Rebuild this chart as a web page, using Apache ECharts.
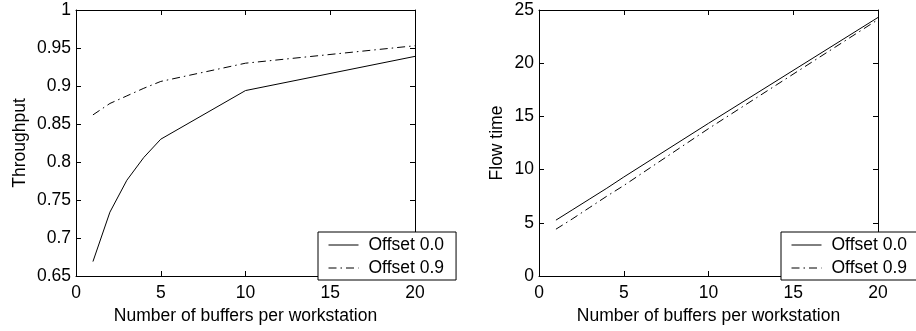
<!DOCTYPE html>
<html>
<head>
<meta charset="utf-8">
<script src="https://cdn.jsdelivr.net/npm/echarts@6/dist/echarts.min.js"></script>
<style>
html, body { margin: 0; padding: 0; background: #fff; }
#chart { width: 916px; height: 331px; }
</style>
</head>
<body>
<div id="chart"></div>
<script>
// buffers per workstation (x values shared by both panels)
var buffers = [1, 2, 3, 4, 5, 10, 20];
var seriesNames = ['Offset 0.0', 'Offset 0.9'];

// left panel: throughput
var throughputOffset00 = [0.669, 0.734, 0.776, 0.806, 0.830, 0.894, 0.939];
var throughputOffset09 = [0.862, 0.877, 0.887, 0.897, 0.906, 0.930, 0.953];

// right panel: flow time
var flowOffset00 = [5.25, 6.25, 7.25, 8.25, 9.3, 14.35, 24.3];
var flowOffset09 = [4.4, 5.4, 6.45, 7.5, 8.5, 13.85, 24.1];

var yTicksThroughput = { min: 0.65, max: 1, interval: 0.05 };
var yTicksFlow = { min: 0, max: 25, interval: 5 };
var xTicks = { min: 0, max: 20, interval: 5 };

var FONT = 'Liberation Sans, Arial, Helvetica, sans-serif';
var FS = 17.5;
var dashDot = [8, 4, 1.5, 4];

function pairs(xs, ys) {
    return xs.map(function (x, i) { return [x, ys[i]]; });
}

function mainX(gridIndex) {
    return {
        type: 'value', gridIndex: gridIndex, position: 'bottom',
        min: xTicks.min, max: xTicks.max, interval: xTicks.interval,
        name: 'Number of buffers per workstation', nameLocation: 'middle', nameGap: 30,
        nameTextStyle: { color: '#000', fontFamily: FONT, fontSize: FS },
        axisLine: { show: true, onZero: false, lineStyle: { color: '#000', width: 1 } },
        axisTick: { show: true, inside: true, length: 5, lineStyle: { color: '#000' } },
        axisLabel: { show: true, color: '#000', fontFamily: FONT, fontSize: FS, margin: 8 },
        splitLine: { show: false }
    };
}

function mirrorX(gridIndex) {
    return {
        type: 'value', gridIndex: gridIndex, position: 'top',
        min: xTicks.min, max: xTicks.max, interval: xTicks.interval,
        axisLine: { show: true, onZero: false, lineStyle: { color: '#000', width: 1 } },
        axisTick: { show: true, inside: true, length: 5, lineStyle: { color: '#000' } },
        axisLabel: { show: false },
        splitLine: { show: false }
    };
}

function mainY(gridIndex, ticks, name, gap) {
    return {
        type: 'value', gridIndex: gridIndex, position: 'left',
        min: ticks.min, max: ticks.max, interval: ticks.interval,
        name: name, nameLocation: 'middle', nameGap: gap,
        nameTextStyle: { color: '#000', fontFamily: FONT, fontSize: FS },
        axisLine: { show: true, onZero: false, lineStyle: { color: '#000', width: 1 } },
        axisTick: { show: true, inside: true, length: 5, lineStyle: { color: '#000' } },
        axisLabel: { show: true, color: '#000', fontFamily: FONT, fontSize: FS, margin: 5 },
        splitLine: { show: false }
    };
}

function mirrorY(gridIndex, ticks) {
    return {
        type: 'value', gridIndex: gridIndex, position: 'right',
        min: ticks.min, max: ticks.max, interval: ticks.interval,
        axisLine: { show: true, onZero: false, lineStyle: { color: '#000', width: 1 } },
        axisTick: { show: true, inside: true, length: 5, lineStyle: { color: '#000' } },
        axisLabel: { show: false },
        splitLine: { show: false }
    };
}

function lineSeries(name, xi, yi, data, type) {
    return {
        name: name, type: 'line', xAxisIndex: xi, yAxisIndex: yi,
        data: data, symbol: 'none', silent: true, animation: false,
        lineStyle: { color: '#000', width: 1, type: type },
        itemStyle: { color: '#000' }
    };
}

function legendAt(left) {
    return {
        left: left, top: 232, orient: 'vertical',
        data: seriesNames,
        itemWidth: 30, itemHeight: 17, itemGap: 5,
        padding: [4, 12, 3, 10],
        backgroundColor: '#fff', borderColor: '#000', borderWidth: 1, borderRadius: 0,
        itemStyle: { color: 'transparent', borderWidth: 0, opacity: 0 },
        lineStyle: { width: 1, color: '#000' },
        textStyle: { color: '#000', fontFamily: FONT, fontSize: FS, padding: [0, 0, 0, 5] },
        selectedMode: false
    };
}

var chart = echarts.init(document.getElementById('chart'), null, { renderer: 'canvas' });
chart.setOption({
    animation: false,
    backgroundColor: '#fff',
    grid: [
        { left: 76, top: 10, width: 339, height: 266 },
        { left: 539, top: 10, width: 339, height: 266 }
    ],
    xAxis: [mainX(0), mirrorX(0), mainX(1), mirrorX(1)],
    yAxis: [
        mainY(0, yTicksThroughput, 'Throughput', 47), mirrorY(0, yTicksThroughput),
        mainY(1, yTicksFlow, 'Flow time', 33), mirrorY(1, yTicksFlow)
    ],
    legend: [legendAt(318), legendAt(781)],
    series: [
        lineSeries(seriesNames[0], 0, 0, pairs(buffers, throughputOffset00), 'solid'),
        lineSeries(seriesNames[1], 0, 0, pairs(buffers, throughputOffset09), dashDot),
        lineSeries(seriesNames[0], 2, 2, pairs(buffers, flowOffset00), 'solid'),
        lineSeries(seriesNames[1], 2, 2, pairs(buffers, flowOffset09), dashDot)
    ]
});
window.onresize = function () {
    chart.resize();
};
</script>
</body>
</html>
